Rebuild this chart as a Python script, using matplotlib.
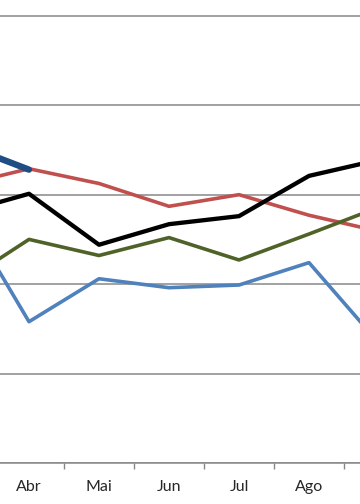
import matplotlib
matplotlib.use('Agg')
import matplotlib.pyplot as plt

# categories (Mar and Set sit just outside the visible crop)
months = ['Mar', 'Abr', 'Mai', 'Jun', 'Jul', 'Ago', 'Set']

# series values
serie_azul = [29.0, 15.8, 20.6, 19.6, 19.9, 22.4, 13.4]
serie_vermelha = [31.0, 32.9, 31.25, 28.7, 30.0, 27.7, 25.9]
serie_verde = [19.9, 25.0, 23.2, 25.2, 22.7, 25.6, 28.6]
serie_preta = [27.9, 30.1, 24.4, 26.7, 27.6, 32.1, 33.9]
serie_azul_escura = [35.8, 32.8]

y_ticks = [0, 10, 20, 30, 40, 50]

fig = plt.figure(figsize=(3.6, 5.04), dpi=100)
# plot area is wider than the picture: the original was cropped
ax = fig.add_axes([-76 / 360, 41 / 504, 490 / 360, 449 / 504])

x = list(range(len(months)))
style = dict(solid_joinstyle='round', solid_capstyle='round')
ax.plot(x, serie_azul, color='#4F81BD', lw=2.6, zorder=3, **style)
ax.plot(x, serie_vermelha, color='#C0504D', lw=2.6, zorder=3, **style)
ax.plot(x, serie_verde, color='#4F6228', lw=2.6, zorder=3, **style)
ax.plot(x, serie_preta, color='#000000', lw=3.1, zorder=4, **style)
ax.plot(x[:len(serie_azul_escura)], serie_azul_escura, color='#1F4E84', lw=4.6, zorder=5, **style)

ax.set_xlim(-0.5, len(months) - 0.5)
ax.set_ylim(0, 50.2)

ax.set_yticks(y_ticks)
ax.yaxis.grid(True, color='#878787', lw=1.1)
ax.set_axisbelow(True)
ax.tick_params(axis='y', left=False, labelleft=False)

# only the fully visible months get a label, as in the cropped original
ax.set_xticks(x[1:-1])
ax.set_xticklabels(months[1:-1], fontsize=11.5, color='#262626', family='Lato')
ax.set_xticks([i + 0.5 for i in x[:-1]], minor=True)
ax.tick_params(axis='x', which='major', length=0, pad=12.5)
ax.tick_params(axis='x', which='minor', length=4, width=1, color='#878787', direction='out')

for side in ['left', 'right', 'top']:
    ax.spines[side].set_visible(False)
ax.spines['bottom'].set_color('#878787')
ax.spines['bottom'].set_linewidth(1.1)

fig.savefig('out.png', dpi=100)
